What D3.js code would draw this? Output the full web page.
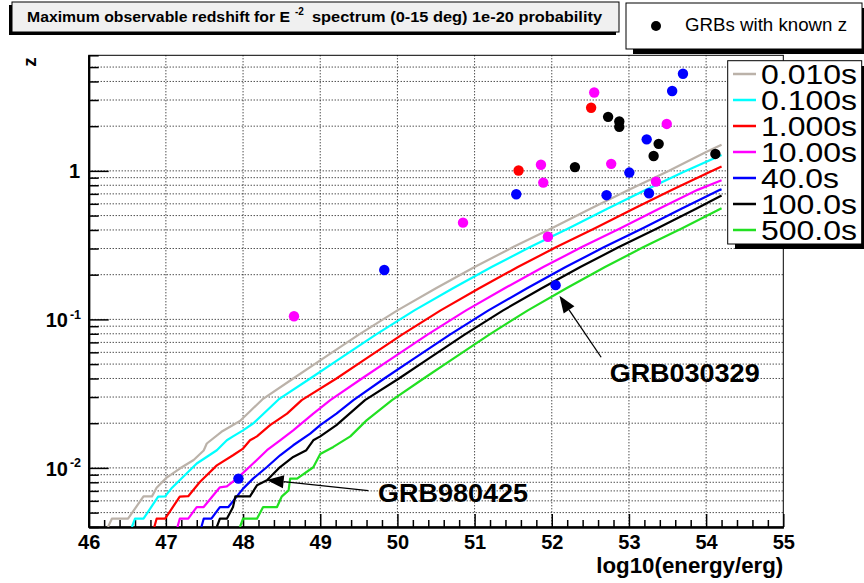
<!DOCTYPE html>
<html><head><meta charset="utf-8">
<script src="https://cdn.jsdelivr.net/npm/d3@7"></script>
<style>
html,body{margin:0;padding:0;background:#fff;}
svg{display:block;font-family:"Liberation Sans",Arial,Helvetica,sans-serif;}
</style></head>
<body><svg id="c" width="864" height="583"></svg>
<script>
// ---------------- data ----------------
const xTickLabels = ["46","47","48","49","50","51","52","53","54","55"];
const legendLabels = ["0.010s","0.100s","1.000s","10.00s","40.0s","100.0s","500.0s"];

const curve001 = [[46.25,0.0040],[46.30,0.00455],[46.51,0.00455],[46.71,0.00643],[46.82,0.00643],[46.88,0.00736],[47.01,0.0086],[47.18,0.0099],[47.36,0.0113],[47.49,0.0131],[47.53,0.0146],[47.72,0.0175],[47.96,0.0207],[48.25,0.0289],[48.65,0.040],[49.00,0.053],[49.50,0.079],[50.00,0.115],[50.50,0.162],[51.00,0.225],[51.50,0.307],[52.00,0.411],[52.50,0.555],[53.00,0.745],[53.50,0.99],[54.00,1.34],[54.20,1.50]];
const curve01 = [[46.56,0.0040],[46.60,0.00455],[46.71,0.00455],[46.90,0.0064],[46.99,0.00643],[47.08,0.00736],[47.40,0.0107],[47.66,0.01315],[47.79,0.01535],[47.87,0.0163],[48.00,0.0179],[48.13,0.0199],[48.46,0.0289],[48.87,0.040],[49.22,0.053],[49.72,0.079],[50.22,0.115],[50.72,0.162],[51.22,0.225],[51.72,0.307],[52.22,0.411],[52.72,0.555],[53.22,0.745],[53.72,0.99],[54.20,1.28]];
const curve1 = [[46.85,0.0040],[46.88,0.00455],[46.99,0.00455],[47.18,0.0064],[47.29,0.00645],[47.44,0.00803],[47.66,0.0104],[47.87,0.01216],[48.00,0.0135],[48.09,0.01535],[48.18,0.0163],[48.35,0.0194],[48.57,0.0232],[48.76,0.0286],[49.21,0.040],[49.56,0.053],[50.06,0.079],[50.56,0.115],[51.06,0.162],[51.56,0.225],[52.06,0.307],[52.56,0.411],[53.06,0.555],[53.56,0.745],[54.06,0.99],[54.20,1.07]];
const curve10 = [[47.15,0.0040],[47.18,0.00455],[47.29,0.00455],[47.40,0.00545],[47.49,0.00545],[47.70,0.0074],[47.79,0.0075],[47.92,0.00847],[48.13,0.0107],[48.31,0.01315],[48.48,0.01535],[48.65,0.0179],[48.91,0.0232],[49.13,0.0286],[49.54,0.040],[49.89,0.053],[50.39,0.079],[50.89,0.115],[51.39,0.162],[51.89,0.225],[52.39,0.307],[52.89,0.411],[53.39,0.555],[53.89,0.745],[54.20,0.865]];
const curve40 = [[47.46,0.0040],[47.49,0.00455],[47.59,0.00455],[47.70,0.00545],[47.81,0.00545],[48.00,0.00725],[48.13,0.00847],[48.31,0.01014],[48.48,0.01216],[48.65,0.0142],[48.87,0.0170],[49.00,0.0194],[49.21,0.0232],[49.43,0.0286],[49.83,0.040],[50.18,0.053],[50.68,0.079],[51.18,0.115],[51.68,0.162],[52.18,0.225],[52.68,0.307],[53.18,0.411],[53.68,0.555],[54.18,0.745],[54.20,0.752]];
const curve100 = [[47.66,0.0040],[47.70,0.00455],[47.79,0.00455],[47.87,0.00545],[47.90,0.00643],[48.09,0.00643],[48.18,0.00763],[48.31,0.00825],[48.48,0.01014],[48.65,0.01185],[48.82,0.01315],[48.91,0.01535],[49.00,0.0163],[49.21,0.0194],[49.58,0.0286],[50.02,0.040],[50.37,0.053],[50.87,0.079],[51.37,0.115],[51.87,0.162],[52.37,0.225],[52.87,0.307],[53.37,0.411],[53.87,0.555],[54.20,0.682]];
const curve500 = [[47.96,0.0040],[48.00,0.00455],[48.18,0.00455],[48.26,0.00545],[48.44,0.00545],[48.50,0.0064],[48.59,0.00706],[48.61,0.00847],[48.70,0.00847],[48.91,0.0101],[49.00,0.0124],[49.17,0.01384],[49.39,0.0163],[49.60,0.0209],[49.93,0.0286],[50.34,0.040],[50.69,0.053],[51.19,0.079],[51.69,0.115],[52.19,0.162],[52.69,0.225],[53.19,0.307],[53.69,0.411],[54.20,0.56]];

// GRBs with known z, grouped by duration class [log10 E, z]
const grb1s   = [[52.51,2.66],[51.57,1.005]];
const grb10s  = [[52.55,3.37],[53.49,2.07],[51.86,1.10],[51.89,0.834],[52.77,1.115],[53.35,0.847],[51.95,0.360],[50.85,0.448],[48.66,0.105]];
const grb40s  = [[53.70,4.51],[53.56,3.45],[53.23,1.63],[53.005,0.974],[51.54,0.696],[52.71,0.686],[53.26,0.707],[52.05,0.170],[49.83,0.215],[47.94,0.00847]];
const grb100s = [[52.73,2.31],[52.875,2.15],[52.875,1.98],[53.385,1.52],[53.32,1.26],[54.12,1.30],[52.30,1.06]];

// annotations: label, text at (E,z), arrow tail (E,z), arrow tip (E,z)
const annotLabels = ["GRB030329","GRB980425"];
const annotText = [[52.75,0.0381],[49.748,0.00593]];
const annotTail = [[52.64,0.0556],[49.623,0.00703]];
const annotTip  = [[52.10,0.144],[48.306,0.0083]];

// ---------------- drawing ----------------
const svg = d3.select("#c");
const X0=88.7, X1=783.3, Y0=55.3, Y1=527;
const x = d3.scaleLinear().domain([46,55]).range([X0,X1]);
const y = d3.scaleLog().domain([0.004,6]).range([Y1,Y0]);

const curveColors = ["#bbb2a9","#00ffff","#ff0000","#ff00ff","#0000ff","#000000","#22e022"];
const curves = [curve001,curve01,curve1,curve10,curve40,curve100,curve500];

// title box
const tb = svg.append("g");
tb.append("rect").attr("x",9).attr("y",5).attr("width",607).attr("height",30).attr("fill","#000");
tb.append("rect").attr("x",12).attr("y",2).attr("width",607).attr("height",30).attr("fill","#f0f0f0").attr("stroke","#000").attr("stroke-width",1);
tb.append("text").attr("x",27).attr("y",22).attr("font-weight","bold").attr("font-size",15)
  .attr("textLength",263).attr("lengthAdjust","spacingAndGlyphs").text("Maximum observable redshift for E");
tb.append("text").attr("x",295).attr("y",15).attr("font-weight","bold").attr("font-size",10).text("-2");
tb.append("text").attr("x",312).attr("y",22).attr("font-weight","bold").attr("font-size",15)
  .attr("textLength",290).attr("lengthAdjust","spacingAndGlyphs").text("spectrum (0-15 deg) 1e-20 probability");

// GRB legend box
const gb = svg.append("g");
gb.append("rect").attr("x",633).attr("y",8).attr("width",236).attr("height",46).attr("fill","#000");
gb.append("rect").attr("x",626).attr("y",3).attr("width",236).attr("height",46).attr("fill","#fff").attr("stroke","#000");
gb.append("circle").attr("cx",656).attr("cy",26).attr("r",5).attr("fill","#000");
gb.append("text").attr("x",685).attr("y",31).attr("font-size",19).attr("textLength",162)
  .attr("lengthAdjust","spacingAndGlyphs").text("GRBs with known z");

// plot area
const plot = svg.append("g");
const gridDash = "1,2";
plot.selectAll(".vg").data(d3.range(47,55)).join("line")
  .attr("x1",d=>x(d)).attr("x2",d=>x(d)).attr("y1",Y0).attr("y2",Y1)
  .attr("stroke","#000").attr("stroke-width",1).attr("stroke-dasharray",gridDash);
const yGridVals = y.ticks().filter(v=>v>0.004001 && v<5.999);
plot.selectAll(".hg").data(yGridVals).join("line")
  .attr("x1",X0).attr("x2",X1).attr("y1",d=>y(d)).attr("y2",d=>y(d))
  .attr("stroke","#000").attr("stroke-width",1).attr("stroke-dasharray",gridDash);

// frame
plot.append("rect").attr("x",X0).attr("y",Y0).attr("width",X1-X0).attr("height",Y1-Y0)
  .attr("fill","none").attr("stroke","#000").attr("stroke-width",1);

// x axis
const xMinor = d3.range(46,55.001,0.2).filter(v=>Math.abs(v-Math.round(v))>1e-6);
const xAxMinor = d3.axisBottom(x).tickValues(xMinor).tickSize(-7).tickSizeOuter(0).tickFormat("");
const xAxMajor = d3.axisBottom(x).tickValues(d3.range(46,56)).tickSize(-13).tickSizeOuter(0)
  .tickPadding(8).tickFormat((d,i)=>xTickLabels[i]);
const gxm = svg.append("g").attr("transform",`translate(0,${Y1})`).call(xAxMinor);
const gx = svg.append("g").attr("transform",`translate(0,${Y1})`).call(xAxMajor);
[gxm,gx].forEach(g=>{g.select(".domain").attr("stroke-width",2);g.selectAll(".tick line").attr("stroke-width",1.5);});
gx.selectAll("text").attr("font-size",20).attr("font-weight","bold").attr("fill","#000")
  .attr("font-family","Liberation Sans, Arial, sans-serif");

// y axis
const yMajor = [0.01,0.1,1];
const yMinor = y.ticks().filter(v=>!yMajor.some(m=>Math.abs(m-v)<1e-9));
const gym = svg.append("g").attr("transform",`translate(${X0},0)`)
  .call(d3.axisLeft(y).tickValues(yMinor).tickSize(-10).tickSizeOuter(0).tickFormat(""));
const gy = svg.append("g").attr("transform",`translate(${X0},0)`)
  .call(d3.axisLeft(y).tickValues(yMajor).tickSize(-20).tickSizeOuter(0).tickFormat(""));
[gym,gy].forEach(g=>{g.select(".domain").attr("stroke-width",2);g.selectAll(".tick line").attr("stroke-width",1.5);});

// y labels
svg.append("text").attr("x",80).attr("y",y(1)+7).attr("text-anchor","end")
  .attr("font-size",20).attr("font-weight","bold").text("1");
[[0.1,"-1"],[0.01,"-2"]].forEach(([v,e])=>{
  svg.append("text").attr("x",68).attr("y",y(v)+8).attr("text-anchor","end")
    .attr("font-size",20).attr("font-weight","bold").text("10");
  svg.append("text").attr("x",81).attr("y",y(v)-0.5).attr("text-anchor","end")
    .attr("font-size",12.5).attr("font-weight","bold").text(e);
});
// axis titles
svg.append("text").attr("x",X1).attr("y",573).attr("text-anchor","end")
  .attr("font-size",22).attr("font-weight","bold").attr("textLength",187)
  .attr("lengthAdjust","spacingAndGlyphs").text("log10(energy/erg)");
svg.append("text").attr("transform","translate(36,62) rotate(-90)").attr("text-anchor","middle")
  .attr("font-size",19).attr("font-weight","bold").text("z");

// curves
svg.append("clipPath").attr("id","clp").append("rect")
  .attr("x",X0).attr("y",Y0).attr("width",X1-X0).attr("height",Y1-Y0);
const line = d3.line().x(d=>x(d[0])).y(d=>y(d[1]));
const cg = svg.append("g").attr("clip-path","url(#clp)");
curves.forEach((c,i)=>{
  cg.append("path").attr("d",line(c)).attr("fill","none")
    .attr("stroke",curveColors[i]).attr("stroke-width",2.2).attr("stroke-linejoin","round");
});

// GRB points
const grbSets = [[grb1s,"#ff0000"],[grb10s,"#ff00ff"],[grb40s,"#0000ff"],[grb100s,"#000000"]];
grbSets.forEach(([pts,col])=>{
  cg.selectAll(null).data(pts).join("circle")
    .attr("cx",d=>x(d[0])).attr("cy",d=>y(d[1])).attr("r",5.2).attr("fill",col);
});

// annotations
annotLabels.forEach((lab,i)=>{
  const tx=x(annotTail[i][0]), ty=y(annotTail[i][1]);
  const hx=x(annotTip[i][0]), hy=y(annotTip[i][1]);
  const ang=Math.atan2(hy-ty,hx-tx), L=17, W=6.5;
  const bx=hx-L*Math.cos(ang), by=hy-L*Math.sin(ang);
  svg.append("line").attr("x1",tx).attr("y1",ty).attr("x2",bx).attr("y2",by)
    .attr("stroke","#000").attr("stroke-width",1.3);
  svg.append("path").attr("d",`M${hx},${hy}L${bx-W*Math.sin(ang)},${by+W*Math.cos(ang)}L${bx+W*Math.sin(ang)},${by-W*Math.cos(ang)}Z`)
    .attr("fill","#000");
  svg.append("text").attr("x",x(annotText[i][0])).attr("y",y(annotText[i][1]))
    .attr("font-size",25).attr("font-weight","bold").attr("textLength",150)
    .attr("lengthAdjust","spacingAndGlyphs").text(lab);
});

// duration legend
const lg = svg.append("g");
lg.append("rect").attr("x",735).attr("y",66).attr("width",134).attr("height",183).attr("fill","#000");
lg.append("rect").attr("x",727.7).attr("y",60.7).attr("width",134).attr("height",183.3)
  .attr("fill","#fff").attr("stroke","#000");
legendLabels.forEach((lab,i)=>{
  const cy = 74 + i*26;
  lg.append("line").attr("x1",733).attr("x2",756).attr("y1",cy).attr("y2",cy)
    .attr("stroke",curveColors[i]).attr("stroke-width",2.5);
  lg.append("text").attr("x",761).attr("y",cy+10.3).attr("font-size",28)
    .attr("textLength",lab.length===5?78:96).attr("lengthAdjust","spacingAndGlyphs").text(lab);
});
</script></body></html>
